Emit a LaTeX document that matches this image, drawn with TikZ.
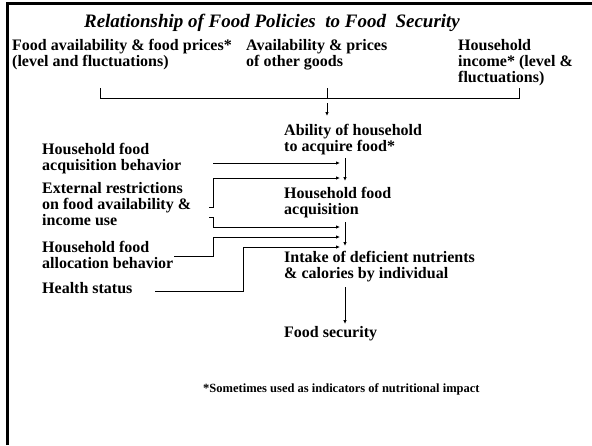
\documentclass[tikz,border=0pt]{standalone}
\usepackage{fontspec}
\setmainfont{Liberation Serif}
\usepackage{tikz}
\usetikzlibrary{arrows.meta}

\tikzset{
  txt/.style={anchor=base west, inner sep=0pt, align=left,
    font=\fontsize{16}{16}\selectfont\bfseries},
  frame/.style={line width=3pt},
  link/.style={line width=1pt}
}

\begin{document}
\begin{tikzpicture}[x=1pt, y=-1pt, >={Latex[length=4pt,width=3.5pt]}]
        \useasboundingbox (0,0) rectangle (592,445);
        % frame
        \draw[frame] (7,445) -- (7,3) -- (592,3);
        % title
        \node[anchor=base, inner sep=0pt, font=\fontsize{19}{19}\selectfont\bfseries\itshape] (title) at (272,27) {Relationship of Food Policies\ \ to Food\ \ Security};
        % top row (base = last line)
        \node[txt] (foodprice) at (12,66) {Food availability \& food prices*\\(level and fluctuations)};
        \node[txt] (othergoods) at (246,66) {Availability \& prices\\of other goods};
        \node[txt] (income) at (458,82) {Household\\income* (level \&\\fluctuations)};
        % centre column
        \node[txt] (ability) at (284,151) {Ability of household\\to acquire food*};
        \node[txt] (acquisition) at (284,214) {Household food\\acquisition};
        \node[txt] (intake) at (284,278) {Intake of deficient nutrients\\\& calories by individual};
        \node[txt] (security) at (284,337) {Food security};
        % left column
        \node[txt] (acqbehav) at (42,170) {Household food\\acquisition behavior};
        \node[txt] (restrict) at (42,225) {External restrictions\\on food availability \&\\income use};
        \node[txt] (allocbehav) at (42,268) {Household food\\allocation behavior};
        \node[txt] (health) at (42,293) {Health status};
        % note
        \node[anchor=base west, inner sep=0pt, font=\fontsize{12.5}{13}\selectfont\bfseries] (note) at (203,392) {*Sometimes used as indicators of nutritional impact};

        % bracket under top row
        \coordinate (bl) at (100,88);
        \coordinate (bm) at (327,88);
        \coordinate (br) at (519,88);
        \draw[link] (bl) -- (100,98) -- (519,98) -- (br);
        \draw[link] (bm) -- (327,98);
        \draw[link, ->] (327,103) -- (327,116);

        % into acquisition
        \draw[link, ->] (345,158) -- (345,181);
        \draw[link, ->] (213,163) -- (340,163);
        \draw[link, ->] (209,207) -- (213,207) -- (213,178) -- (340,178);

        % into intake
        \draw[link, ->] (345,222) -- (345,246);
        \draw[link, ->] (209,217) -- (213,217) -- (213,227) -- (340,227);
        \draw[link, ->] (174,256) -- (213,256) -- (213,237) -- (340,237);
        \draw[link, ->] (155,291) -- (243,291) -- (243,247) -- (340,247);

        % to food security
        \draw[link, ->] (345,287) -- (345,324);
\end{tikzpicture}
\end{document}
